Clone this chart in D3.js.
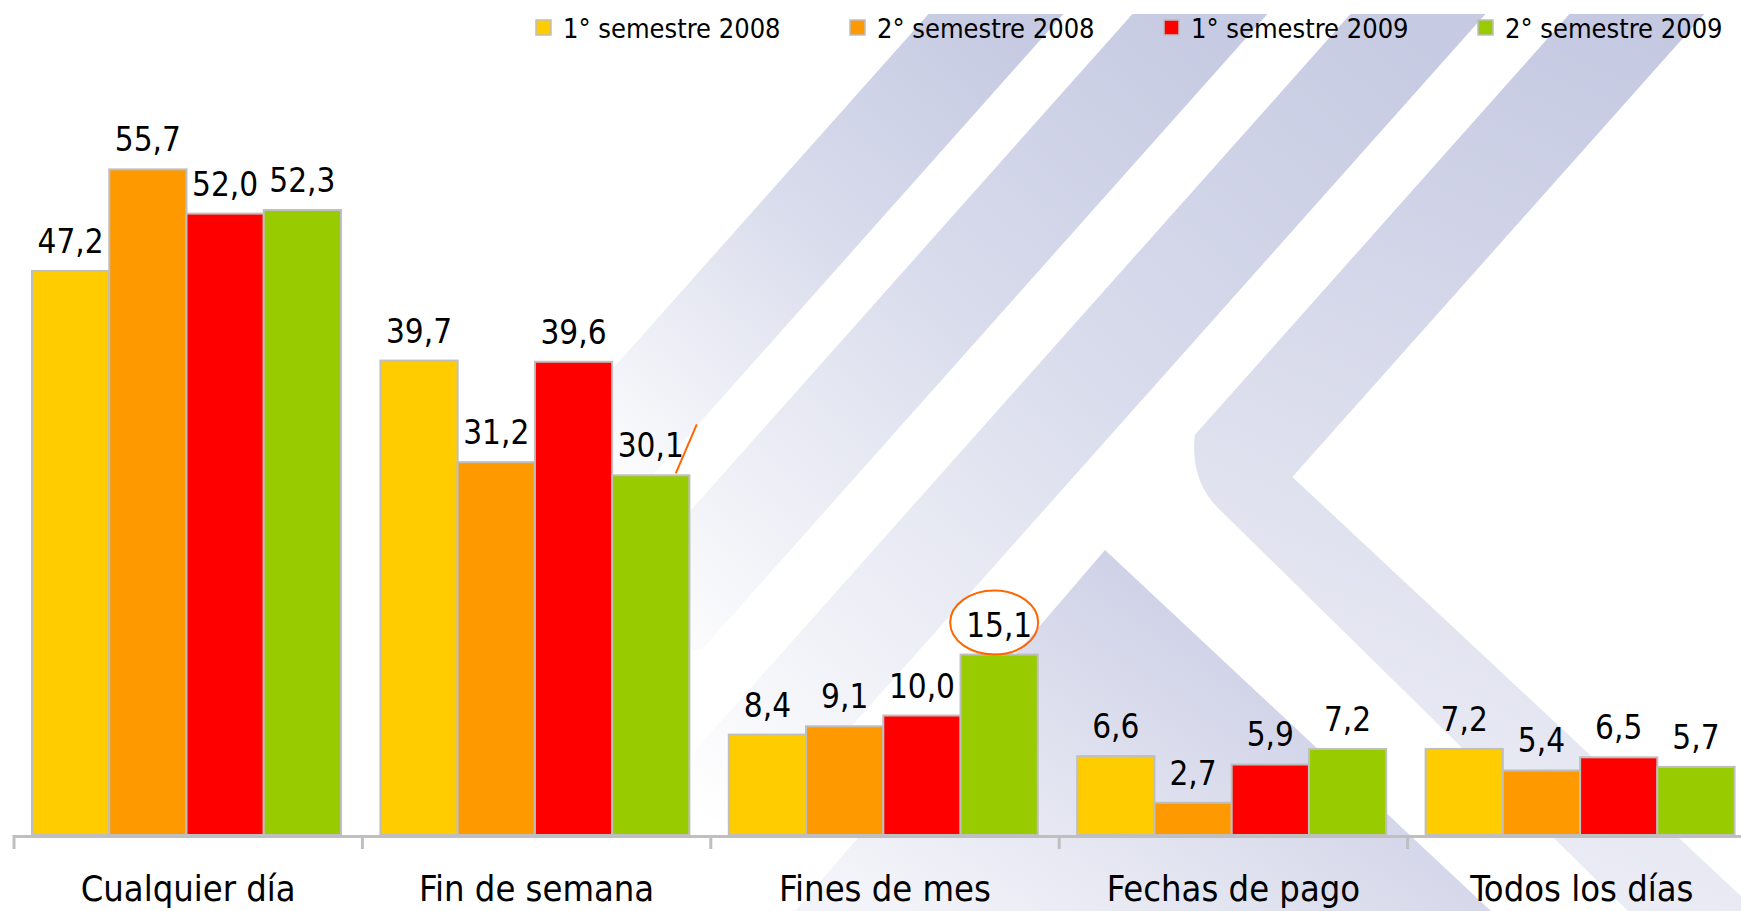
<!DOCTYPE html>
<html>
<head>
<meta charset="utf-8">
<script src="https://cdn.jsdelivr.net/npm/d3@7"></script>
<style>
  html, body { margin: 0; padding: 0; background: #fff; }
  svg { display: block; }
  text { font-family: "DejaVu Sans Condensed", "DejaVu Sans", sans-serif; font-stretch: condensed; fill: #000; }
</style>
</head>
<body>
<div id="chart"></div>
<script>
const width = 1741,
    height = 911;

// data
const categories = ["Cualquier día", "Fin de semana", "Fines de mes", "Fechas de pago", "Todos los días"];
const seriesNames = ["1° semestre 2008", "2° semestre 2008", "1° semestre 2009", "2° semestre 2009"];
const sem1_2008 = [47.2, 39.7, 8.4, 6.6, 7.2];
const sem2_2008 = [55.7, 31.2, 9.1, 2.7, 5.4];
const sem1_2009 = [52.0, 39.6, 10.0, 5.9, 6.5];
const sem2_2009 = [52.3, 30.1, 15.1, 7.2, 5.7];
const seriesColors = ["#FFCC00", "#FF9900", "#FF0000", "#99CC00"];

const seriesValues = [sem1_2008, sem2_2008, sem1_2009, sem2_2009];
const rows = categories.map((c, i) => ({
    category: c,
    values: seriesValues.map((s, j) => ({ key: seriesNames[j], value: s[i], idx: j }))
}));

const svg = d3.select("#chart")
    .append("svg")
    .attr("width", width)
    .attr("height", height);

// watermark in the background (fades toward the lower left)
const defs = svg.append("defs");
const bandGrad = defs.append("linearGradient")
    .attr("id", "bandGrad")
    .attr("gradientUnits", "userSpaceOnUse")
    .attr("x1", 1600).attr("y1", 0)
    .attr("x2", 1107).attr("y2", 1150);
bandGrad.append("stop").attr("offset", "0%").attr("stop-color", "#c4c8e1");
bandGrad.append("stop").attr("offset", "100%").attr("stop-color", "#ffffff");

const triGrad = defs.append("linearGradient")
    .attr("id", "triGrad")
    .attr("gradientUnits", "userSpaceOnUse")
    .attr("x1", 1150).attr("y1", 550)
    .attr("x2", 900).attr("y2", 911);
triGrad.append("stop").attr("offset", "0%").attr("stop-color", "#cdd0e6");
triGrad.append("stop").attr("offset", "100%").attr("stop-color", "#f3f4f9");

const bg = svg.append("g").attr("class", "watermark");
const slope = 0.89, bandW = 135, bandTop = 14;
const edgeAt = (x310, yy) => x310 - slope * (yy - 310);

// three straight stripes, each fading out at its lower end
[[665, 480], [869, 650], [1087, 820]].forEach(([xs, yb], i) => {
    const g = defs.append("linearGradient")
        .attr("id", "stripe" + i)
        .attr("gradientUnits", "userSpaceOnUse")
        .attr("x1", edgeAt(xs + bandW / 2, bandTop)).attr("y1", bandTop)
        .attr("x2", edgeAt(xs + bandW / 2, yb)).attr("y2", yb);
    g.append("stop").attr("offset", "0%").attr("stop-color", "#c6cae2");
    g.append("stop").attr("offset", "45%").attr("stop-color", "#d9dcec");
    g.append("stop").attr("offset", "100%").attr("stop-color", "#ffffff");

    bg.append("path")
        .attr("d", `M${edgeAt(xs, bandTop)},${bandTop} L${edgeAt(xs + bandW, bandTop)},${bandTop} L${edgeAt(xs + bandW, yb)},${yb} L${edgeAt(xs, yb)},${yb} Z`)
        .attr("fill", `url(#stripe${i})`);
});

// chevron
const x4 = 1306;
bg.append("path")
    .attr("d", `M${edgeAt(x4, bandTop)},${bandTop} L${edgeAt(x4 + bandW, bandTop)},${bandTop} L${edgeAt(x4 + bandW, 477)},477
        L1741,896 L1741,911 L1628,911 L1218,508 Q1190,480 ${edgeAt(x4, 435)},435 Z`)
    .attr("fill", "url(#bandGrad)");

// lower triangle
bg.append("path")
    .attr("d", "M1105,550 L1491,911 L795,911 Z")
    .attr("fill", "url(#triGrad)");

// scales
const x0 = d3.scaleBand()
    .domain(categories)
    .range([14, 14 + 348.4 * 5])
    .padding(0);

const x1 = d3.scaleBand()
    .domain(seriesNames)
    .range([18, 327])
    .padding(0);

const y = d3.scaleLinear()
    .domain([0, 60])
    .range([835, 835 - 60 * 11.95]);

const fmt = v => d3.format(".1f")(v).replace(".", ",");

// bars
const groups = svg.selectAll(".group")
    .data(rows)
    .enter()
    .append("g")
    .attr("class", "group")
    .attr("transform", d => `translate(${x0(d.category)},0)`);

groups.selectAll("rect")
    .data(d => d.values)
    .enter()
    .append("rect")
    .attr("x", d => x1(d.key))
    .attr("y", d => y(d.value))
    .attr("width", x1.bandwidth())
    .attr("height", d => y(0) - y(d.value))
    .attr("fill", d => seriesColors[d.idx])
    .attr("stroke", "#bfbfbf")
    .attr("stroke-width", 2);

groups.selectAll(".val")
    .data(d => d.values)
    .enter()
    .append("text")
    .attr("class", "val")
    .attr("x", d => x1(d.key) + x1.bandwidth() / 2)
    .attr("y", d => y(d.value) - 18)
    .attr("text-anchor", "middle")
    .style("font-size", "33px")
    .text(d => fmt(d.value));

// axis line + boundary ticks
const axis = svg.append("g").attr("class", "x-axis");
axis.append("line")
    .attr("x1", 14).attr("x2", width)
    .attr("y1", 836.5).attr("y2", 836.5)
    .attr("stroke", "#bfbfbf")
    .attr("stroke-width", 3);

axis.selectAll(".tick-mark")
    .data(categories)
    .enter()
    .append("line")
    .attr("x1", d => x0(d)).attr("x2", d => x0(d))
    .attr("y1", 835).attr("y2", 849)
    .attr("stroke", "#bfbfbf")
    .attr("stroke-width", 3);

axis.selectAll(".cat")
    .data(categories)
    .enter()
    .append("text")
    .attr("class", "cat")
    .attr("x", d => x0(d) + x0.bandwidth() / 2)
    .attr("y", 901)
    .attr("text-anchor", "middle")
    .style("font-size", "36px")
    .text(d => d);

// annotations (orange marks on the chart)
const circled = rows[2].values[3];
const cx = x0(rows[2].category) + x1(circled.key) + x1.bandwidth() / 2;
svg.append("ellipse")
    .attr("cx", cx - 5)
    .attr("cy", y(circled.value) - 18 - 14)
    .attr("rx", 44)
    .attr("ry", 32)
    .attr("fill", "none")
    .attr("stroke", "#FF6600")
    .attr("stroke-width", 2);

const slashed = rows[1].values[3];
const sx = x0(rows[1].category) + x1(slashed.key) + x1.bandwidth() / 2;
const sy = y(slashed.value) - 18;
svg.append("line")
    .attr("x1", sx + 25).attr("y1", sy + 16)
    .attr("x2", sx + 46).attr("y2", sy - 33)
    .attr("stroke", "#FF6600")
    .attr("stroke-width", 2);

// legend
const legend = svg.append("g")
    .attr("class", "legend")
    .attr("transform", "translate(536,0)");

const items = legend.selectAll(".item")
    .data(seriesNames)
    .enter()
    .append("g")
    .attr("class", "item")
    .attr("transform", (d, i) => `translate(${i * 314},0)`);

items.append("rect")
    .attr("x", 0)
    .attr("y", 20)
    .attr("width", 15)
    .attr("height", 15)
    .attr("fill", (d, i) => seriesColors[i])
    .attr("stroke", "#bfbfbf")
    .attr("stroke-width", 1.5);

items.append("text")
    .attr("x", 27)
    .attr("y", 38)
    .style("font-size", "27px")
    .text(d => d);
</script>
</body>
</html>
